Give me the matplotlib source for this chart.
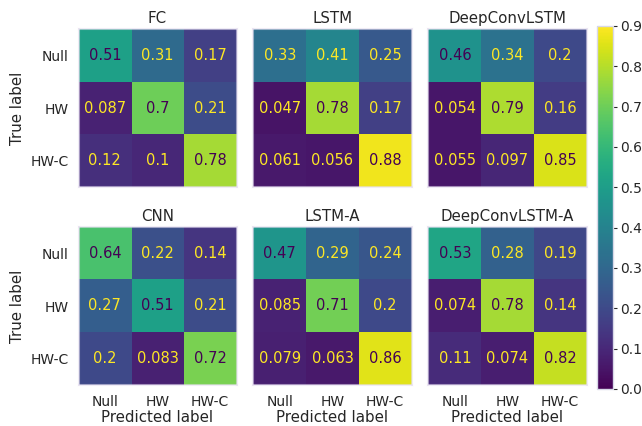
import matplotlib.pyplot as plt
import matplotlib as mpl
import numpy as np

classes = ["Null", "HW", "HW-C"]
titles = ["FC", "LSTM", "DeepConvLSTM", "CNN", "LSTM-A", "DeepConvLSTM-A"]

fc = [[0.51, 0.31, 0.17], [0.087, 0.7, 0.21], [0.12, 0.1, 0.78]]
lstm = [[0.33, 0.41, 0.25], [0.047, 0.78, 0.17], [0.061, 0.056, 0.88]]
deepconvlstm = [[0.46, 0.34, 0.2], [0.054, 0.79, 0.16], [0.055, 0.097, 0.85]]
cnn = [[0.64, 0.22, 0.14], [0.27, 0.51, 0.21], [0.2, 0.083, 0.72]]
lstm_a = [[0.47, 0.29, 0.24], [0.085, 0.71, 0.2], [0.079, 0.063, 0.86]]
deepconvlstm_a = [[0.53, 0.28, 0.19], [0.074, 0.78, 0.14], [0.11, 0.074, 0.82]]

matrices = [fc, lstm, deepconvlstm, cnn, lstm_a, deepconvlstm_a]

plt.style.use("seaborn-v0_8-whitegrid")
plt.rcParams["font.family"] = ["DejaVu Sans"]
text_color = "#262626"
W, H = 642, 426
fig = plt.figure(figsize=(W / 100, H / 100), dpi=100)

cmap = mpl.colormaps["viridis"]
norm = mpl.colors.Normalize(vmin=0.0, vmax=0.9)

# pixel boxes (left, top) of each panel; all panels 159x158 px
lefts = [78, 253, 428]
tops = [29, 227]
pw, ph = 159, 158

for k, (name, cm) in enumerate(zip(titles, matrices)):
    r, c = divmod(k, 3)
    ax = fig.add_axes([lefts[c] / W, 1 - (tops[r] + ph) / H, pw / W, ph / H])
    cm = np.array(cm)
    ax.imshow(cm, cmap=cmap, norm=norm, interpolation="nearest")
    thresh = (cm.max() + cm.min()) / 2
    for i in range(3):
        for j in range(3):
            col = cmap(0.0) if cm[i, j] >= thresh else cmap(1.0)
            ax.text(j, i, f"{cm[i, j]:.2g}", ha="center", va="center",
                    color=col, fontsize=10.5)
    ax.grid(False)
    ax.set_title(name, fontsize=10.8, color=text_color, pad=4)
    ax.set_xticks(range(3))
    ax.set_yticks(range(3))
    ax.tick_params(length=0, labelsize=10, colors=text_color, pad=7)
    if c == 0:
        ax.set_yticklabels(classes)
        ax.set_ylabel("True label", fontsize=10.8, color=text_color)
    else:
        ax.set_yticklabels([])
    if r == 1:
        ax.set_xticklabels(classes)
        ax.set_xlabel("Predicted label", fontsize=10.8, color=text_color, labelpad=1)
    else:
        ax.set_xticklabels([])
    for sp in ax.spines.values():
        sp.set_color("#e6e0f0")
        sp.set_alpha(0.6)
        sp.set_linewidth(1.5)

cax = fig.add_axes([597 / W, 1 - 389 / H, 16 / W, 363 / H])
cb = fig.colorbar(mpl.cm.ScalarMappable(norm=norm, cmap=cmap), cax=cax)
cb.set_ticks(np.arange(0, 0.91, 0.1))
cb.ax.tick_params(length=3, width=0.8, colors=text_color, labelsize=10, pad=2)
cb.outline.set_edgecolor("#d8d8e8")
cb.outline.set_linewidth(1)

fig.savefig("out.png", dpi=100)
